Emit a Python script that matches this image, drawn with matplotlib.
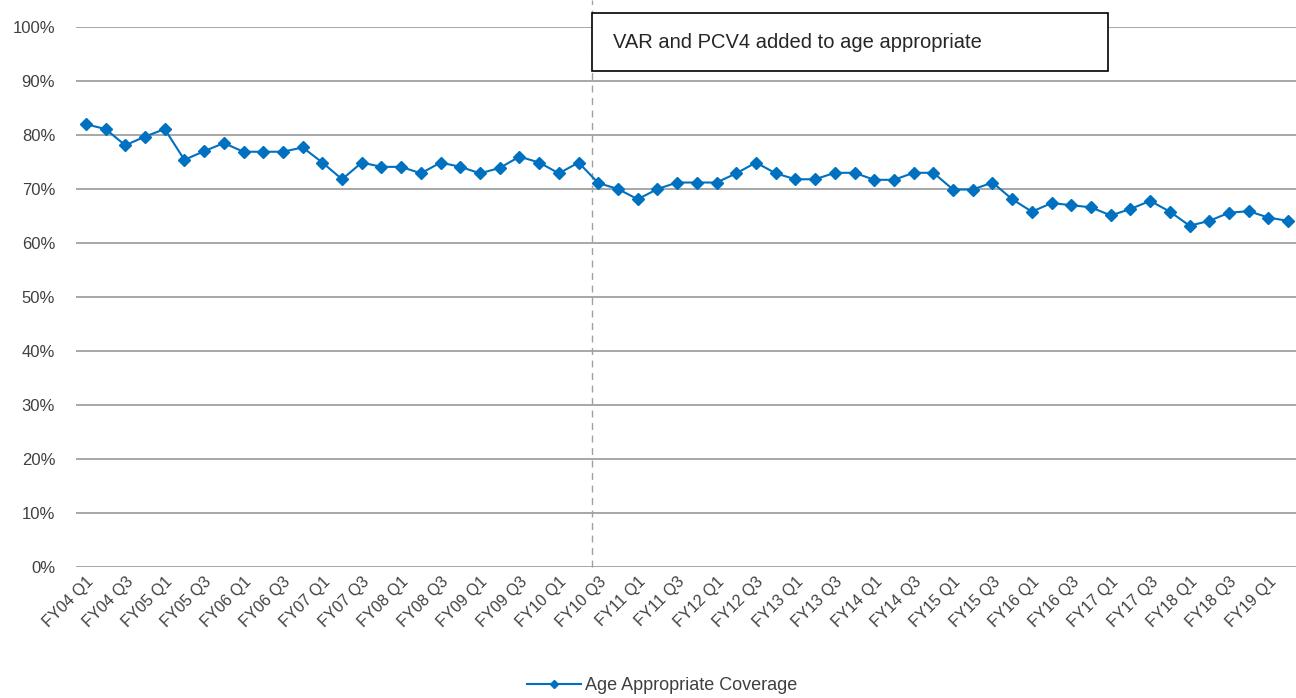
import numpy as np
import matplotlib
matplotlib.use('Agg')
import matplotlib.pyplot as plt
from matplotlib.patches import Rectangle

# quarters FY04 Q1 .. FY19 Q2
years = list(range(4, 20))
quarters = []
for y in years:
    for q in range(1, 5):
        quarters.append('FY%02d Q%d' % (y, q))
quarters = quarters[:62]

coverage = [82.0, 81.1, 78.1, 79.7, 81.1, 75.4, 77.0, 78.5, 76.9, 76.9,
            76.9, 77.7, 74.9, 71.8, 74.9, 74.1, 74.1, 72.9, 74.9, 74.1,
            72.9, 73.9, 76.0, 74.9, 72.9, 74.9, 71.1, 70.0, 68.1, 70.0,
            71.2, 71.2, 71.2, 72.9, 74.9, 72.9, 71.8, 71.8, 73.0, 73.0,
            71.7, 71.7, 73.0, 73.0, 69.9, 69.9, 71.2, 68.1, 65.8, 67.4,
            67.0, 66.6, 65.1, 66.3, 67.8, 65.8, 63.2, 64.1, 65.6, 65.9,
            64.7, 64.1]

event_pos = 25.7
event_text = 'VAR and PCV4 added to age appropriate'

plt.rcParams['font.family'] = ['Liberation Sans', 'DejaVu Sans']

W, H = 1296, 698
fig = plt.figure(figsize=(12.96, 6.98), dpi=100)
ax = fig.add_axes([76 / W, 131 / H, 1222 / W, 540 / H])

x = np.arange(len(coverage))
ax.plot(x, coverage, color='#0070C0', lw=1.5, marker='D', markersize=6,
        label='Age Appropriate Coverage', zorder=3)

ax.set_xlim(-0.5, len(coverage) - 0.5)
ax.set_ylim(0, 100)
ax.set_yticks(np.arange(0, 101, 10))
ax.set_yticklabels(['%d%%' % v for v in range(0, 101, 10)], fontsize=12, color='#404040')
ax.set_xticks(x[::2])
ax.set_xticklabels(quarters[::2], rotation=45, ha='right', rotation_mode='anchor',
                   fontsize=11.5, color='#404040')
ax.tick_params(length=0)
ax.tick_params(axis='x', pad=5)
ax.tick_params(axis='y', pad=15)
for s in ax.spines.values():
    s.set_visible(False)
ax.grid(axis='y', color='#989898', lw=1.2)
ax.set_axisbelow(True)

# event marker
ax.axvline(event_pos, ymin=0, ymax=1.05, color='#A0A0A0', lw=1, ls=(0, (5, 4)),
           clip_on=False, zorder=1)
fig.patches.append(Rectangle((592 / W, 1 - 71 / H), 516 / W, 58 / H,
                             transform=fig.transFigure, fc='white', ec='black',
                             lw=1.2, zorder=5))
fig.text(613 / W, 1 - 42 / H, event_text, fontsize=14.5, color='#262626',
         va='center', ha='left', zorder=6)

fig.legend(loc='center', bbox_to_anchor=(0.511, 1 - 686 / H), frameon=False,
           fontsize=13, handlelength=3.0, handletextpad=0.2, markerscale=0.7,
           labelcolor='#404040')

fig.savefig('out.png', dpi=100)
